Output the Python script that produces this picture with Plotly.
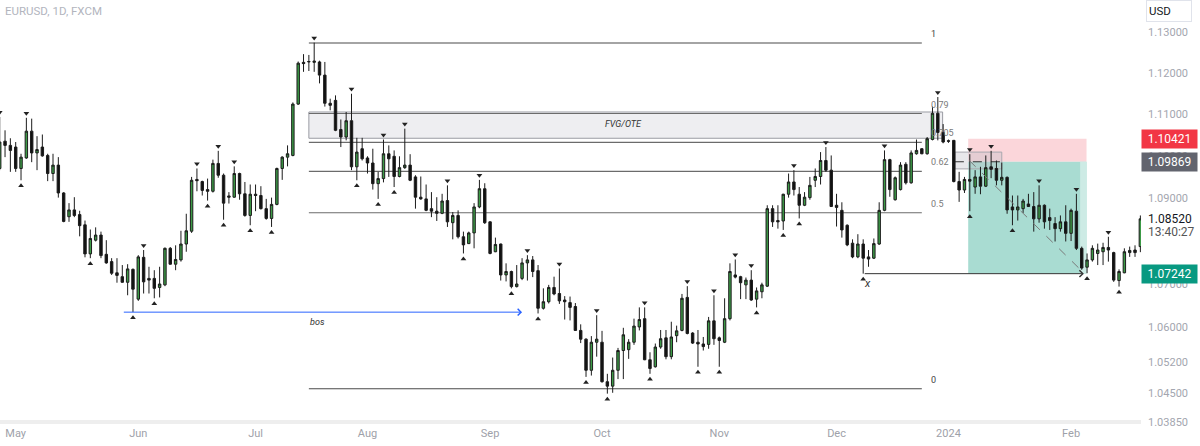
import math
import numpy as np
import pandas as pd
import plotly.graph_objects as go

# ---------------- data (EURUSD daily) ----------------
start_date = "2023-04-26"
opens = [1.0971,1.1036,1.1026,1.1022,1.0971,1.0996,1.1060,1.1008,1.1022,1.1002,
         1.0959,1.0979,1.0913,1.0857,1.0873,1.0862,1.0838,1.0770,1.0802,1.0814,
         1.0769,1.0752,1.0726,1.0717,1.0704,1.0734,1.0665,1.0762,1.0713,1.0713,
         1.0692,1.0698,1.0783,1.0746,1.0756,1.0793,1.0823,1.0945,1.0940,1.0921,
         1.0917,1.0983,1.0955,1.0906,1.0903,1.0959,1.0911,1.0860,1.0910,1.0907,
         1.0876,1.0853,1.0886,1.0971,1.0998,1.1002,1.1125,1.1226,1.1227,1.1226,
         1.1227,1.1195,1.1127,1.1134,1.1064,1.1046,1.1085,1.0975,1.1018,1.0996,
         1.0984,1.0935,1.0947,1.1006,1.1000,1.0952,1.0973,1.0979,1.0951,1.0903,
         1.0899,1.0876,1.0870,1.0865,1.0895,1.0843,1.0860,1.0810,1.0794,1.0819,
         1.0880,1.0923,1.0845,1.0775,1.0793,1.0721,1.0729,1.0694,1.0713,1.0749,
         1.0756,1.0731,1.0644,1.0659,1.0692,1.0678,1.0663,1.0657,1.0648,1.0593,
         1.0573,1.0502,1.0566,1.0566,1.0476,1.0466,1.0502,1.0547,1.0549,1.0566,
         1.0601,1.0620,1.0526,1.0510,1.0555,1.0576,1.0533,1.0581,1.0593,1.0669,
         1.0587,1.0566,1.0562,1.0561,1.0615,1.0576,1.0566,1.0620,1.0721,1.0717,
         1.0698,1.0709,1.0665,1.0682,1.0695,1.0876,1.0848,1.0847,1.0910,1.0939,
         1.0910,1.0884,1.0902,1.0943,1.0952,1.0990,1.0967,1.0884,1.0872,1.0837,
         1.0795,1.0763,1.0793,1.0763,1.0760,1.0793,1.0872,1.0992,1.0897,1.0921,
         1.0981,1.0937,1.1006,1.1018,1.1006,1.1040,1.1103,1.1057,1.1037,1.1038,
         1.0940,1.0920,1.0945,1.0927,1.0951,1.0929,1.0975,1.0971,1.0943,1.0950,
         1.0880,1.0873,1.0876,1.0887,1.0881,1.0852,1.0884,1.0855,1.0841,1.0829,
         1.0845,1.0818,1.0870,1.0783,1.0739,1.0756,1.0771,1.0775,1.0785,1.0773,
         1.0708,1.0726,1.0773,1.0779,1.0787]
highs = [1.1094,1.1062,1.1043,1.1034,1.1006,1.1092,1.1090,1.1048,1.1052,1.1006,
         1.1006,1.0998,1.0915,1.0889,1.0903,1.0871,1.0848,1.0827,1.0832,1.0822,
         1.0802,1.0760,1.0760,1.0744,1.0746,1.0736,1.0767,1.0779,1.0740,1.0732,
         1.0740,1.0785,1.0786,1.0790,1.0824,1.0864,1.0951,1.0971,1.0942,1.0947,
         1.0992,1.1013,1.0959,1.0915,1.0976,1.0961,1.0939,1.0933,1.0933,1.0929,
         1.0899,1.0902,1.0973,1.1000,1.1026,1.1129,1.1228,1.1246,1.1244,1.1274,
         1.1230,1.1227,1.1138,1.1146,1.1088,1.1106,1.1150,1.1044,1.1044,1.1000,
         1.1018,1.0963,1.1040,1.1026,1.1014,1.1000,1.1066,1.1005,1.0955,1.0952,
         1.0933,1.0915,1.0903,1.0911,1.0931,1.0868,1.0872,1.0822,1.0822,1.0889,
         1.0944,1.0936,1.0846,1.0808,1.0794,1.0748,1.0731,1.0744,1.0760,1.0767,
         1.0765,1.0744,1.0690,1.0698,1.0717,1.0736,1.0672,1.0671,1.0656,1.0607,
         1.0575,1.0580,1.0628,1.0592,1.0494,1.0531,1.0553,1.0599,1.0573,1.0620,
         1.0646,1.0646,1.0543,1.0563,1.0594,1.0594,1.0613,1.0604,1.0677,1.0695,
         1.0589,1.0594,1.0578,1.0624,1.0674,1.0579,1.0667,1.0748,1.0757,1.0719,
         1.0715,1.0732,1.0692,1.0703,1.0884,1.0884,1.0884,1.0911,1.0959,1.0967,
         1.0927,1.0915,1.0951,1.0971,1.1010,1.1022,1.1002,1.0911,1.0891,1.0839,
         1.0804,1.0816,1.0804,1.0779,1.0806,1.0891,1.1014,1.0994,1.0952,1.0986,
         1.0986,1.1014,1.1040,1.1019,1.1046,1.1119,1.1142,1.1077,1.1040,1.1039,
         1.0963,1.0951,1.1005,1.0967,1.0975,1.1002,1.1013,1.0990,1.0985,1.0952,
         1.0907,1.0907,1.0899,1.0911,1.0915,1.0931,1.0886,1.0876,1.0856,1.0860,
         1.0884,1.0876,1.0911,1.0787,1.0771,1.0790,1.0794,1.0796,1.0810,1.0775,
         1.0734,1.0783,1.0787,1.0790,1.0860]
lows = [1.0967,1.0998,1.0963,1.0963,1.0943,1.0994,1.0986,1.0967,1.0999,1.0941,
        1.0941,1.0902,1.0844,1.0845,1.0856,1.0811,1.0762,1.0760,1.0799,1.0760,
        1.0747,1.0721,1.0703,1.0703,1.0674,1.0635,1.0661,1.0678,1.0678,1.0667,
        1.0669,1.0695,1.0745,1.0732,1.0752,1.0775,1.0819,1.0917,1.0907,1.0895,
        1.0914,1.0949,1.0850,1.0888,1.0902,1.0897,1.0857,1.0837,1.0870,1.0874,
        1.0850,1.0833,1.0884,1.0944,1.0976,1.1000,1.1123,1.1203,1.1205,1.1203,
        1.1175,1.1119,1.1110,1.1060,1.1022,1.1038,1.0967,1.0943,1.0990,1.0959,
        1.0921,1.0899,1.0938,1.0951,1.0927,1.0950,1.0970,1.0941,1.0876,1.0897,
        1.0870,1.0856,1.0847,1.0863,1.0833,1.0804,1.0806,1.0771,1.0793,1.0783,
        1.0877,1.0840,1.0769,1.0774,1.0708,1.0706,1.0690,1.0692,1.0709,1.0708,
        1.0716,1.0632,1.0641,1.0655,1.0674,1.0654,1.0618,1.0616,1.0592,1.0564,
        1.0487,1.0490,1.0533,1.0474,1.0449,1.0451,1.0482,1.0482,1.0528,1.0560,
        1.0593,1.0525,1.0494,1.0508,1.0551,1.0527,1.0527,1.0566,1.0591,1.0584,
        1.0562,1.0510,1.0547,1.0551,1.0560,1.0510,1.0564,1.0616,1.0713,1.0665,
        1.0665,1.0661,1.0646,1.0667,1.0693,1.0833,1.0829,1.0826,1.0902,1.0907,
        1.0853,1.0882,1.0897,1.0927,1.0933,1.0963,1.0880,1.0834,1.0808,1.0788,
        1.0760,1.0760,1.0724,1.0740,1.0758,1.0791,1.0870,1.0904,1.0895,1.0919,
        1.0933,1.0935,1.1004,1.1005,1.1004,1.1038,1.1038,1.1031,1.1032,1.0938,
        1.0892,1.0913,1.0870,1.0911,1.0910,1.0927,1.0948,1.0931,1.0931,1.0864,
        1.0837,1.0848,1.0866,1.0880,1.0822,1.0843,1.0829,1.0826,1.0799,1.0822,
        1.0799,1.0800,1.0779,1.0733,1.0725,1.0752,1.0744,1.0744,1.0752,1.0705,
        1.0694,1.0725,1.0763,1.0763,1.0774]
closes = [1.1034,1.1026,1.1014,1.0971,1.0998,1.1060,1.1008,1.1016,1.1001,1.0959,
          1.0979,1.0913,1.0846,1.0873,1.0860,1.0836,1.0770,1.0806,1.0814,1.0766,
          1.0749,1.0725,1.0720,1.0704,1.0735,1.0688,1.0763,1.0705,1.0709,1.0690,
          1.0700,1.0783,1.0746,1.0757,1.0793,1.0824,1.0943,1.0942,1.0919,1.0917,
          1.0983,1.0955,1.0889,1.0903,1.0959,1.0911,1.0860,1.0910,1.0907,1.0876,
          1.0853,1.0886,1.0971,1.0998,1.1006,1.1125,1.1224,1.1223,1.1228,1.1229,
          1.1195,1.1127,1.1122,1.1062,1.1046,1.1085,1.0975,1.1010,1.0994,1.0984,
          1.0935,1.0947,1.1006,1.0994,1.0952,1.0973,1.0979,1.0943,1.0903,1.0899,
          1.0872,1.0870,1.0865,1.0894,1.0845,1.0860,1.0810,1.0791,1.0819,1.0880,
          1.0923,1.0843,1.0771,1.0792,1.0721,1.0729,1.0694,1.0700,1.0749,1.0756,
          1.0729,1.0644,1.0659,1.0692,1.0677,1.0661,1.0659,1.0646,1.0593,1.0573,
          1.0502,1.0566,1.0573,1.0476,1.0466,1.0502,1.0547,1.0583,1.0566,1.0603,
          1.0618,1.0526,1.0506,1.0555,1.0574,1.0533,1.0578,1.0592,1.0667,1.0586,
          1.0564,1.0562,1.0556,1.0615,1.0574,1.0570,1.0620,1.0729,1.0716,1.0703,
          1.0709,1.0663,1.0684,1.0698,1.0876,1.0845,1.0845,1.0910,1.0939,1.0921,
          1.0884,1.0903,1.0931,1.0952,1.0990,1.0967,1.0881,1.0879,1.0826,1.0791,
          1.0763,1.0793,1.0760,1.0758,1.0794,1.0872,1.0992,1.0921,1.0949,1.0979,
          1.0937,1.1008,1.1014,1.1006,1.1042,1.1103,1.1057,1.1034,1.1036,1.0940,
          1.0920,1.0945,1.0941,1.0951,1.0929,1.0973,1.0969,1.0943,1.0950,1.0873,
          1.0873,1.0880,1.0894,1.0881,1.0852,1.0884,1.0845,1.0848,1.0829,1.0845,
          1.0818,1.0872,1.0783,1.0737,1.0756,1.0783,1.0779,1.0785,1.0779,1.0709,
          1.0729,1.0775,1.0778,1.0773,1.0852]

swing_high_idx = [-3, 2, 24, 34, 38, 41, 56, 63, 69, 73, 81, 87, 96, 102, 109, 118,
                  126, 131, 135, 138, 146, 152, 163, 173, 179, 183, 192, 199, 205]
swing_low_idx = [1, 14, 22, 26, 36, 39, 44, 48, 64, 68, 71, 84, 93, 98, 107, 111, 119,
                 128, 132, 139, 144, 147, 159, 179, 187, 201, 207]

fib_high, fib_low = 1.1273, 1.0460
fib_ratios = [1, 0.79, 0.705, 0.62, 0.5, 0]
fib_labels = ["1", "0.79", "0.705", "0.62", "0.5", "0"]
fib_x = (55, 170)

fvg_top, fvg_bottom = 1.1106, 1.1043
fvg_x = (55, 173.9)

stop_price, entry_price, target_price = 1.10421, 1.09869, 1.07242
pos_x = (178.7, 200.9)

bos_price = 1.0635
bos_x = (20, 95)
sweep_price = 1.0724
sweep_x = (159, 200.4)

last_price = 1.08520
countdown = "13:40:27"

y_ticks = [1.13, 1.12, 1.11, 1.10, 1.09, 1.07, 1.06, 1.052, 1.045, 1.0385]

# ---------------- build ----------------
n = len(opens)
dates = pd.bdate_range(start_date, periods=n)
xi = np.arange(-3, -3 + n)

tick_pos, tick_txt = [], []
for k in range(1, n):
    if dates[k].month != dates[k - 1].month:
        tick_pos.append(int(xi[k]))
        d = dates[k]
        tick_txt.append(str(d.year) if d.month == 1 else d.strftime("%b"))

L10 = math.log10
fig = go.Figure()
shapes = []


def rect(x0, x1, y0, y1, fill, line_color=None, lw=0):
    shapes.append(dict(type="rect", xref="x", yref="y", x0=x0, x1=x1,
                       y0=y0, y1=y1, fillcolor=fill, layer="below",
                       line=dict(color=line_color or "rgba(0,0,0,0)", width=lw)))


def hline(x0, x1, y, color, width=1, dash="solid"):
    shapes.append(dict(type="line", xref="x", yref="y", x0=x0, x1=x1,
                       y0=y, y1=y, layer="below",
                       line=dict(color=color, width=width, dash=dash)))


# bottom strip
shapes.append(dict(type="rect", xref="paper", yref="paper", x0=0, x1=1,
                   y0=0.0024, y1=0.0118, fillcolor="#eeeeee", line=dict(width=0),
                   layer="below"))

# FVG / OTE box
rect(fvg_x[0], fvg_x[1], fvg_bottom, fvg_top, "#eeeef1", "#9a9ca3", 1)

# fib lines
for r in fib_ratios:
    lvl = fib_low + r * (fib_high - fib_low)
    col = "#4a4a4a" if r in (0, 1) else "#6b6b6b"
    hline(fib_x[0], fib_x[1], lvl, col, 1.1)

# position tool
rect(pos_x[0], pos_x[1], entry_price, stop_price, "#fbd6da")
rect(pos_x[0], pos_x[1], target_price, entry_price, "#a9dcd2")
rect(199.7, pos_x[1], target_price, entry_price, "#cdebe5")
rect(176.2, 185.0, 1.0970, 1.1010, "rgba(190,190,198,0.35)", "#a8a8ae", 1)
hline(176.2, 185.0, 1.0987, "#333333", 1, "dash")

# candles
fig.add_trace(go.Candlestick(
    x=xi, open=opens, high=highs, low=lows, close=closes,
    increasing=dict(fillcolor="#3c9a46", line=dict(color="#1c1c1c", width=1)),
    decreasing=dict(fillcolor="#111111", line=dict(color="#1c1c1c", width=1)),
    whiskerwidth=0, hoverinfo="skip"))

# dashed diagonal of the position tool
fig.add_trace(go.Scatter(x=[178.9, 200.2], y=[1.0990, 1.0728], mode="lines",
                         line=dict(color="#7a7a7a", width=1, dash="dash"),
                         hoverinfo="skip"))

# swing markers
hi_map = {int(x): h for x, h in zip(xi, highs)}
lo_map = {int(x): l for x, l in zip(xi, lows)}
fig.add_trace(go.Scatter(
    x=swing_high_idx, y=[hi_map[i] * 1.0010 for i in swing_high_idx], mode="markers",
    marker=dict(symbol="triangle-down", size=5, color="#222222"), hoverinfo="skip"))
fig.add_trace(go.Scatter(
    x=swing_low_idx, y=[lo_map[i] / 1.0012 for i in swing_low_idx], mode="markers",
    marker=dict(symbol="triangle-up", size=5, color="#222222"), hoverinfo="skip"))

ann = []
# arrows
ann.append(dict(x=bos_x[1], y=L10(bos_price), ax=bos_x[0], ay=L10(bos_price),
                xref="x", yref="y", axref="x", ayref="y", text="", showarrow=True,
                arrowhead=4, arrowsize=1.3, arrowwidth=1, arrowcolor="#2962ff"))
ann.append(dict(x=sweep_x[1], y=L10(sweep_price), ax=sweep_x[0], ay=L10(sweep_price),
                xref="x", yref="y", axref="x", ayref="y", text="", showarrow=True,
                arrowhead=4, arrowsize=1.3, arrowwidth=1, arrowcolor="#333333"))
# texts on chart
ann.append(dict(x=56.7, y=L10(1.0612), text="<i>bos</i>", showarrow=False,
                font=dict(size=9, color="#333333")))
ann.append(dict(x=159.9, y=L10(1.0702), text="<i>x</i>", showarrow=False,
                font=dict(size=11, color="#333333")))
ann.append(dict(x=114, y=L10(1.1078), text="<i>FVG/OTE</i>", showarrow=False,
                font=dict(size=9, color="#333333")))
for r, lab in zip(fib_ratios, fib_labels):
    lvl = fib_low + r * (fib_high - fib_low)
    ann.append(dict(x=171.3, y=L10(lvl), text=lab, showarrow=False, xanchor="left",
                    yanchor="middle", yshift=9,
                    font=dict(size=9, color="#444444" if r in (0, 1) else "#7a7a7a")))

# price-scale labels
for price, bg in [(stop_price, "#f23645"), (entry_price, "#62646e"),
                  (target_price, "#089981")]:
    ann.append(dict(xref="paper", x=1, y=L10(price), xanchor="left", yanchor="middle",
                    text=f"{price:.5f}", showarrow=False, bgcolor=bg, width=52,
                    height=15, borderpad=1.5, align="center",
                    font=dict(size=12, color="white", family="Roboto")))
ann.append(dict(xref="paper", x=1, y=L10(last_price), xanchor="left", yanchor="middle",
                xshift=5, text=f"{last_price:.5f}", showarrow=False, bgcolor="white",
                font=dict(size=12, color="#131722", family="Roboto")))
ann.append(dict(xref="paper", x=1, y=L10(last_price), xanchor="left", yanchor="middle",
                xshift=5, yshift=-13, text=countdown, showarrow=False, bgcolor="white",
                font=dict(size=12, color="#555555", family="Roboto")))
# header texts
ann.append(dict(xref="paper", yref="paper", x=0, y=1, xanchor="left", yanchor="top",
                xshift=3, yshift=-2, text="EURUSD, 1D, FXCM", showarrow=False,
                font=dict(size=11.5, color="#b2b5be", family="Roboto")))
ann.append(dict(xref="paper", yref="paper", x=1, y=1, xanchor="left", yanchor="top",
                xshift=5, yshift=0, text="USD", showarrow=False, bgcolor="white",
                bordercolor="#e0e3eb", borderwidth=1, width=40, height=16,
                borderpad=2, align="left",
                font=dict(size=11.5, color="#131722", family="Roboto")))

# axis ranges from the picture's scale
y_top_log = L10(1.13 * math.exp(32 / 4619))
y_bot_log = L10(1.13 * math.exp(-(425 - 32) / 4619))

fig.update_layout(
    width=1200, height=446, margin=dict(l=0, r=59, t=0, b=21),
    paper_bgcolor="white", plot_bgcolor="white", showlegend=False,
    hovermode=False, boxgap=0.35, annotations=ann, shapes=shapes,
    font=dict(family="Roboto"),
    xaxis=dict(range=[-2.946, 211.12], tickmode="array", tickvals=tick_pos,
               ticktext=tick_txt, showgrid=False, zeroline=False, showline=False,
               ticks="", rangeslider=dict(visible=False),
               tickfont=dict(size=11, color="#9ea1a9")),
    yaxis=dict(type="log", range=[y_bot_log, y_top_log], side="right",
               tickmode="array", tickvals=y_ticks,
               ticktext=[f"{v:.5f}" for v in y_ticks], showgrid=False,
               zeroline=False, showline=False, ticks="", ticklabelstandoff=6,
               tickfont=dict(size=11, color="#a3a6af")),
)

fig.write_html("out.html", config={"displayModeBar": False},
               post_script="document.body.style.margin='0';")
